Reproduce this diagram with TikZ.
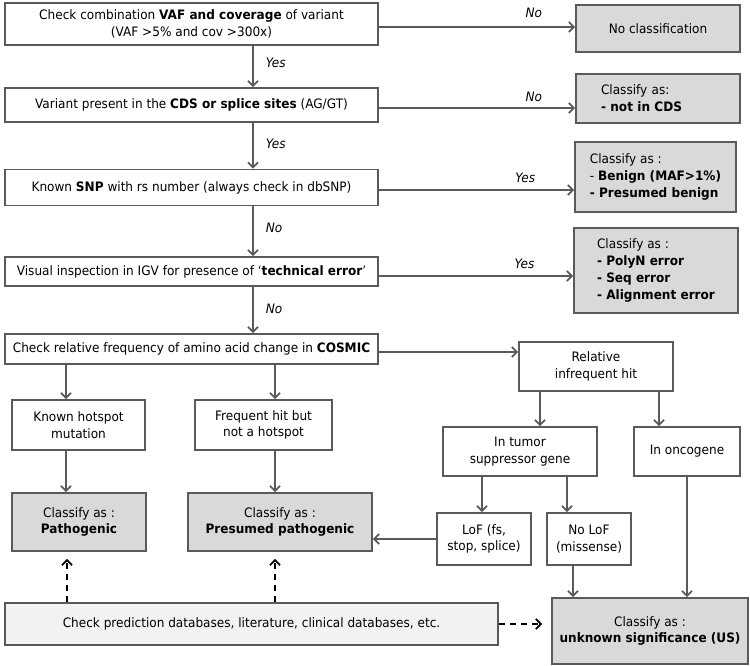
\documentclass[tikz,border=0pt]{standalone}
\usepackage{fontspec}
\setmainfont{DejaVu Sans}[FakeStretch=0.93]
\usetikzlibrary{arrows.meta,calc}
\definecolor{ln}{HTML}{5A5A5A}
\definecolor{gfill}{HTML}{D9D9D9}
\definecolor{lfill}{HTML}{F2F2F2}
\tikzset{
  box/.style={draw=ln, line width=1.8pt, fill=white, inner sep=0pt, align=center},
  gbox/.style={box, fill=gfill},
  sz/.style n args={2}{minimum width=#1pt, minimum height=#2pt},
  arr/.style={draw=ln, line width=1.8pt, -{Straight Barb[length=5pt,width=10pt]}},
  darr/.style={draw=black, line width=1.8pt, dash pattern=on 6pt off 5pt, -{Straight Barb[length=5pt,width=10pt]}},
  lbl/.style={font=\fontsize{13}{14}\selectfont\itshape, inner sep=0pt}
}
\begin{document}
\begin{tikzpicture}[x=1pt,y=-1pt, font=\fontsize{13}{16.8}\selectfont]
\useasboundingbox (0,0) rectangle (750,665);

% column coordinates
\coordinate (cA) at (253,0);
\coordinate (cB) at (66,0);
\coordinate (cC) at (275,0);
\coordinate (cD) at (540,0);
\coordinate (cE) at (659,0);
\coordinate (cF) at (482,0);
\coordinate (cG) at (567,0);
\coordinate (cH) at (573,0);
\coordinate (cI) at (687,0);
\coordinate (cJ) at (67,0);

% nodes
\node[box, sz={373}{42}] (b1) at (191.5,24) {Check combination \textbf{VAF and coverage} of variant\\(VAF >5\% and cov >300x)};
\node[gbox, sz={164}{47}] (nc) at (658,28.5) {No classification};
\node[box, sz={373}{34}] (b2) at (191.5,105) {Variant present in the \textbf{CDS or splice sites} (AG/GT)};
\node[gbox, sz={164}{49}, align=left, text width=114pt] (ncds) at (658,98.5) {Classify as:\\\textbf{- not in CDS}};
\node[box, sz={373}{36}] (b3) at (191.5,187.5) {Known \textbf{SNP} with rs number (always check in dbSNP)};
\node[gbox, sz={161}{70}, align=left] (ben) at (655.5,177) {Classify as :\\- \textbf{Benign (MAF>1\%)}\\\textbf{- Presumed benign}};
\node[box, sz={373}{29}] (b4) at (191.5,271.5) {Visual inspection in IGV for presence of `\textbf{technical error}'};
\node[gbox, sz={164}{85}, align=left] (err) at (656,270.5) {Classify as :\\\textbf{- PolyN error}\\\textbf{- Seq error}\\\textbf{- Alignment error}};
\node[box, sz={373}{30}] (b5) at (191.5,349) {Check relative frequency of amino acid change in \textbf{COSMIC}};
\node[box, sz={154}{49}] (rih) at (596,366.5) {Relative\\infrequent hit};
\node[box, sz={133}{50}] (hot) at (78.5,425) {Known hotspot\\mutation};
\node[box, sz={137}{50}] (freq) at (263.5,425) {Frequent hit but\\not a hotspot};
\node[box, sz={154}{49}] (tsg) at (520,451.5) {In tumor\\suppressor gene};
\node[box, sz={106}{49}] (onc) at (687,451.5) {In oncogene};
\node[gbox, sz={134}{58}] (path) at (79,522) {Classify as :\\\textbf{Pathogenic}};
\node[gbox, sz={184}{58}] (ppath) at (280,522) {Classify as :\\\textbf{Presumed pathogenic}};
\node[box, sz={94}{52}] (lof) at (484,539) {LoF (fs,\\stop, splice)};
\node[box, sz={84}{52}] (nolof) at (589,539) {No LoF\\(missense)};
\node[gbox, sz={196}{66}] (us) at (650,631) {Classify as :\\\textbf{unknown significance (US)}};
\node[box, fill=lfill, sz={493}{42}] (chk) at (251.5,624) {Check prediction databases, literature, clinical databases, etc.};

% horizontal decision arrows
\draw[arr] ([yshift=-3pt]b1.east) -- ([yshift=-3pt]b1.east -| nc.west) node[lbl, pos=0.79, above=8pt] {No};
\draw[arr] ([yshift=-3pt]b2.east) -- ([yshift=-3pt]b2.east -| ncds.west) node[lbl, pos=0.79, above=5pt] {No};
\draw[arr] ([yshift=-2.5pt]b3.east) -- ([yshift=-2.5pt]b3.east -| ben.west) node[lbl, pos=0.75, above=6pt] {Yes};
\draw[arr] ([yshift=-4.5pt]b4.east) -- ([yshift=-4.5pt]b4.east -| err.west) node[lbl, pos=0.75, above=6pt] {Yes};
\draw[arr] ([yshift=-3pt]b5.east) -- ([yshift=-3pt]b5.east -| rih.west);

% vertical main flow
\draw[arr] (b1.south -| cA) -- (b2.north -| cA) node[lbl, pos=0.4, right=12pt] {Yes};
\draw[arr] (b2.south -| cA) -- (b3.north -| cA) node[lbl, pos=0.45, right=12pt] {Yes};
\draw[arr] (b3.south -| cA) -- (b4.north -| cA) node[lbl, pos=0.44, right=12pt] {No};
\draw[arr] (b4.south -| cA) -- (b5.north -| cA) node[lbl, pos=0.48, right=12pt] {No};

% COSMIC branches
\draw[arr] (b5.south -| cB) -- (hot.north -| cB);
\draw[arr] (b5.south -| cC) -- (freq.north -| cC);
\draw[arr] (rih.south -| cD) -- (tsg.north -| cD);
\draw[arr] (rih.south -| cE) -- (onc.north -| cE);
\draw[arr] (hot.south -| cB) -- (path.north -| cB);
\draw[arr] (freq.south -| cC) -- (ppath.north -| cC);
\draw[arr] (tsg.south -| cF) -- (lof.north -| cF);
\draw[arr] (tsg.south -| cG) -- (nolof.north -| cG);
\draw[arr] (lof.west) -- (lof.west -| ppath.east);
\draw[arr] (nolof.south -| cH) -- (us.north -| cH);
\draw[arr] (onc.south -| cI) -- (us.north -| cI);

% dashed checks
\draw[darr, shorten >=7pt] (chk.north -| cJ) -- (path.south -| cJ);
\draw[darr, shorten >=7pt] (chk.north -| cC) -- (ppath.south -| cC);
\draw[darr, shorten >=9pt] (chk.east) -- (chk.east -| us.west);
\end{tikzpicture}
\end{document}
